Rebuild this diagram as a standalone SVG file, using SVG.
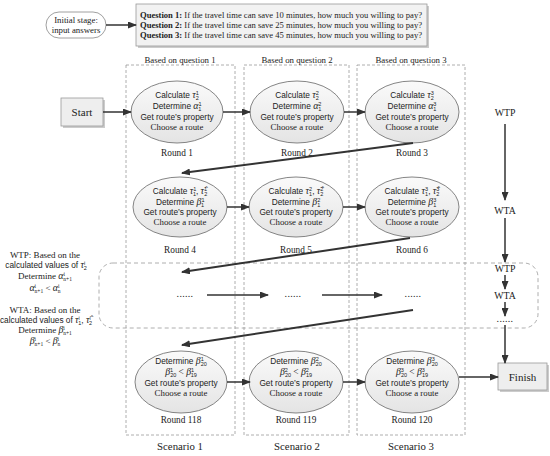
<svg xmlns="http://www.w3.org/2000/svg" width="550" height="456" viewBox="0 0 550 456">
<defs>
<marker id="ah" markerWidth="9" markerHeight="7" refX="8" refY="3.5" orient="auto" markerUnits="userSpaceOnUse">
<path d="M0,0 L9,3.5 L0,7 Z" fill="#333"/>
</marker>
<linearGradient id="eg" x1="0" y1="0" x2="0" y2="1">
<stop offset="0" stop-color="#fafafa"/>
<stop offset="1" stop-color="#e4e4e4"/>
</linearGradient>
<style>
.s{font-family:"Liberation Serif","DejaVu Serif",serif;fill:#222}
.a{font-family:"Liberation Sans","DejaVu Sans",sans-serif;fill:#222}
.m{font-family:"Liberation Serif",serif;font-style:italic;font-size:9.8px}
.sc{font-size:5.5px}
.ell{fill:url(#eg);stroke:#777;stroke-width:0.9}
.col{fill:none;stroke:#999;stroke-width:0.8;stroke-dasharray:3,2}
.ln{stroke:#333;stroke-width:1.5;fill:none}
.lt{stroke:#333;stroke-width:2;fill:none}
.box{fill:#eee;stroke:#999;stroke-width:0.8}
.sh{fill:#ccc}
.dt{font-size:10px;letter-spacing:0.3px}
</style>
</defs>

<g id="initial">
<rect x="46" y="12" width="60" height="26" rx="13" fill="#fff" stroke="#888" stroke-width="0.8"/>
<text class="s" x="76" y="23" font-size="8.8" text-anchor="middle">Initial stage:</text>
<text class="s" x="76" y="33" font-size="8.8" text-anchor="middle">input answers</text>
</g>

<g id="questions">
<rect x="138" y="6" width="291" height="42" class="sh"/>
<rect x="136" y="4" width="291" height="42" fill="#f2f2f2" stroke="#999" stroke-width="0.8"/>
<text class="s" x="140" y="18" font-size="8.8" textLength="282" lengthAdjust="spacingAndGlyphs"><tspan font-weight="bold">Question 1:</tspan> If the travel time can save 10 minutes, how much you willing to pay?</text>
<text class="s" x="140" y="28" font-size="8.8" textLength="282" lengthAdjust="spacingAndGlyphs"><tspan font-weight="bold">Question 2:</tspan> If the travel time can save 25 minutes, how much you willing to pay?</text>
<text class="s" x="140" y="38" font-size="8.8" textLength="282" lengthAdjust="spacingAndGlyphs"><tspan font-weight="bold">Question 3:</tspan> If the travel time can save 45 minutes, how much you willing to pay?</text>
</g>

<g id="columns">
<rect class="col" x="126" y="65" width="109" height="370"/>
<rect class="col" x="244" y="65" width="105" height="370"/>
<rect class="col" x="357" y="65" width="108" height="370"/>
<text class="s" x="180" y="63" font-size="8.8" text-anchor="middle">Based on question 1</text>
<text class="s" x="297" y="63" font-size="8.8" text-anchor="middle">Based on question 2</text>
<text class="s" x="411" y="63" font-size="8.8" text-anchor="middle">Based on question 3</text>
<text class="s" x="180" y="450" font-size="10.8" text-anchor="middle">Scenario 1</text>
<text class="s" x="297" y="450" font-size="10.8" text-anchor="middle">Scenario 2</text>
<text class="s" x="411" y="450" font-size="10.8" text-anchor="middle">Scenario 3</text>
</g>

<g id="loopbox">
<rect x="99" y="263" width="439" height="65" rx="14" fill="none" stroke="#999" stroke-width="0.8" stroke-dasharray="4,3"/>
</g>

<g id="start">
<rect x="63" y="100" width="42" height="28" class="sh"/>
<rect x="61" y="98" width="42" height="28" class="box"/>
<text class="s" x="82" y="116" font-size="11" text-anchor="middle">Start</text>
</g>

<g id="finish">
<rect x="500" y="365" width="49" height="27" class="sh"/>
<rect x="498" y="363" width="49" height="27" class="box"/>
<text class="s" x="522.5" y="381" font-size="11" text-anchor="middle">Finish</text>
</g>

<g id="round1">
<ellipse class="ell" cx="177" cy="112" rx="46" ry="31"/>
<text class="a" x="177" y="98" font-size="8.3" text-anchor="middle">Calculate <tspan class="m">τ</tspan><tspan class="sc" dy="-3">1</tspan><tspan class="sc" dx="-3" dy="5">2</tspan></text>
<text class="a" x="177" y="109" font-size="8.3" text-anchor="middle">Determine <tspan class="m">α</tspan><tspan class="sc" dy="-3">1</tspan><tspan class="sc" dx="-3" dy="5">1</tspan></text>
<text class="a" x="177" y="120" font-size="8.3" text-anchor="middle">Get route’s property</text>
<text class="s" x="177" y="130" font-size="8.8" text-anchor="middle">Choose a route</text>
<text class="s" x="177" y="156" font-size="9.3" text-anchor="middle">Round 1</text>
</g>

<g id="round2">
<ellipse class="ell" cx="297" cy="112" rx="47" ry="31"/>
<text class="a" x="297" y="98" font-size="8.3" text-anchor="middle">Calculate <tspan class="m">τ</tspan><tspan class="sc" dy="-3">2</tspan><tspan class="sc" dx="-3" dy="5">2</tspan></text>
<text class="a" x="297" y="109" font-size="8.3" text-anchor="middle">Determine <tspan class="m">α</tspan><tspan class="sc" dy="-3">2</tspan><tspan class="sc" dx="-3" dy="5">1</tspan></text>
<text class="a" x="297" y="120" font-size="8.3" text-anchor="middle">Get route’s property</text>
<text class="s" x="297" y="130" font-size="8.8" text-anchor="middle">Choose a route</text>
<text class="s" x="297" y="156" font-size="9.3" text-anchor="middle">Round 2</text>
</g>

<g id="round3">
<ellipse class="ell" cx="412" cy="112" rx="47" ry="31"/>
<text class="a" x="412" y="98" font-size="8.3" text-anchor="middle">Calculate <tspan class="m">τ</tspan><tspan class="sc" dy="-3">3</tspan><tspan class="sc" dx="-3" dy="5">2</tspan></text>
<text class="a" x="412" y="109" font-size="8.3" text-anchor="middle">Determine <tspan class="m">α</tspan><tspan class="sc" dy="-3">3</tspan><tspan class="sc" dx="-3" dy="5">1</tspan></text>
<text class="a" x="412" y="120" font-size="8.3" text-anchor="middle">Get route’s property</text>
<text class="s" x="412" y="130" font-size="8.8" text-anchor="middle">Choose a route</text>
<text class="s" x="412" y="156" font-size="9.3" text-anchor="middle">Round 3</text>
</g>

<g id="round4">
<ellipse class="ell" cx="180" cy="207" rx="47" ry="30"/>
<text class="a" x="180" y="194" font-size="8.3" text-anchor="middle">Calculate <tspan class="m">τ</tspan><tspan class="sc" dy="-3">1</tspan><tspan class="sc" dx="-3" dy="5">1</tspan><tspan dy="-2">, </tspan><tspan class="m">τ̂</tspan><tspan class="sc" dy="-3">1</tspan><tspan class="sc" dx="-3" dy="5">2</tspan></text>
<text class="a" x="180" y="205" font-size="8.3" text-anchor="middle">Determine <tspan class="m">β</tspan><tspan class="sc" dy="-3">1</tspan><tspan class="sc" dx="-3" dy="5">1</tspan></text>
<text class="a" x="180" y="215" font-size="8.3" text-anchor="middle">Get route’s property</text>
<text class="s" x="180" y="225" font-size="8.8" text-anchor="middle">Choose a route</text>
<text class="s" x="180" y="253" font-size="9.3" text-anchor="middle">Round 4</text>
</g>

<g id="round5">
<ellipse class="ell" cx="296" cy="207" rx="47" ry="30"/>
<text class="a" x="296" y="194" font-size="8.3" text-anchor="middle">Calculate <tspan class="m">τ</tspan><tspan class="sc" dy="-3">2</tspan><tspan class="sc" dx="-3" dy="5">1</tspan><tspan dy="-2">, </tspan><tspan class="m">τ̂</tspan><tspan class="sc" dy="-3">2</tspan><tspan class="sc" dx="-3" dy="5">2</tspan></text>
<text class="a" x="296" y="205" font-size="8.3" text-anchor="middle">Determine <tspan class="m">β</tspan><tspan class="sc" dy="-3">2</tspan><tspan class="sc" dx="-3" dy="5">1</tspan></text>
<text class="a" x="296" y="215" font-size="8.3" text-anchor="middle">Get route’s property</text>
<text class="s" x="296" y="225" font-size="8.8" text-anchor="middle">Choose a route</text>
<text class="s" x="296" y="253" font-size="9.3" text-anchor="middle">Round 5</text>
</g>

<g id="round6">
<ellipse class="ell" cx="412" cy="207" rx="47" ry="30"/>
<text class="a" x="412" y="194" font-size="8.3" text-anchor="middle">Calculate <tspan class="m">τ</tspan><tspan class="sc" dy="-3">3</tspan><tspan class="sc" dx="-3" dy="5">1</tspan><tspan dy="-2">, </tspan><tspan class="m">τ̂</tspan><tspan class="sc" dy="-3">3</tspan><tspan class="sc" dx="-3" dy="5">2</tspan></text>
<text class="a" x="412" y="205" font-size="8.3" text-anchor="middle">Determine <tspan class="m">β</tspan><tspan class="sc" dy="-3">3</tspan><tspan class="sc" dx="-3" dy="5">1</tspan></text>
<text class="a" x="412" y="215" font-size="8.3" text-anchor="middle">Get route’s property</text>
<text class="s" x="412" y="225" font-size="8.8" text-anchor="middle">Choose a route</text>
<text class="s" x="412" y="253" font-size="9.3" text-anchor="middle">Round 6</text>
</g>

<g id="dots">
<text class="s dt" x="185" y="297" text-anchor="middle">......</text>
<text class="s dt" x="293" y="297" text-anchor="middle">......</text>
<text class="s dt" x="413" y="297" text-anchor="middle">......</text>
</g>

<g id="round118">
<ellipse class="ell" cx="181" cy="382" rx="46" ry="31"/>
<text class="a" x="181" y="364" font-size="8.3" text-anchor="middle">Determine <tspan class="m">β</tspan><tspan class="sc" dy="-3">1</tspan><tspan class="sc" dx="-3" dy="5">20</tspan></text>
<text class="a" x="181" y="375" font-size="8.3" text-anchor="middle"><tspan class="m">β</tspan><tspan class="sc" dy="-3">1</tspan><tspan class="sc" dx="-3" dy="5">20</tspan><tspan dy="-2" font-size="9.3" class="s"> &lt; </tspan><tspan class="m">β</tspan><tspan class="sc" dy="-3">1</tspan><tspan class="sc" dx="-3" dy="5">19</tspan></text>
<text class="a" x="181" y="386" font-size="8.3" text-anchor="middle">Get route’s property</text>
<text class="s" x="181" y="396" font-size="8.8" text-anchor="middle">Choose a route</text>
<text class="s" x="181" y="423" font-size="9.3" text-anchor="middle">Round 118</text>
</g>

<g id="round119">
<ellipse class="ell" cx="296" cy="382" rx="47" ry="31"/>
<text class="a" x="296" y="364" font-size="8.3" text-anchor="middle">Determine <tspan class="m">β</tspan><tspan class="sc" dy="-3">2</tspan><tspan class="sc" dx="-3" dy="5">20</tspan></text>
<text class="a" x="296" y="375" font-size="8.3" text-anchor="middle"><tspan class="m">β</tspan><tspan class="sc" dy="-3">2</tspan><tspan class="sc" dx="-3" dy="5">20</tspan><tspan dy="-2" font-size="9.3" class="s"> &lt; </tspan><tspan class="m">β</tspan><tspan class="sc" dy="-3">2</tspan><tspan class="sc" dx="-3" dy="5">19</tspan></text>
<text class="a" x="296" y="386" font-size="8.3" text-anchor="middle">Get route’s property</text>
<text class="s" x="296" y="396" font-size="8.8" text-anchor="middle">Choose a route</text>
<text class="s" x="296" y="423" font-size="9.3" text-anchor="middle">Round 119</text>
</g>

<g id="round120">
<ellipse class="ell" cx="412" cy="382" rx="47" ry="31"/>
<text class="a" x="412" y="364" font-size="8.3" text-anchor="middle">Determine <tspan class="m">β</tspan><tspan class="sc" dy="-3">3</tspan><tspan class="sc" dx="-3" dy="5">20</tspan></text>
<text class="a" x="412" y="375" font-size="8.3" text-anchor="middle"><tspan class="m">β</tspan><tspan class="sc" dy="-3">3</tspan><tspan class="sc" dx="-3" dy="5">20</tspan><tspan dy="-2" font-size="9.3" class="s"> &lt; </tspan><tspan class="m">β</tspan><tspan class="sc" dy="-3">3</tspan><tspan class="sc" dx="-3" dy="5">19</tspan></text>
<text class="a" x="412" y="386" font-size="8.3" text-anchor="middle">Get route’s property</text>
<text class="s" x="412" y="396" font-size="8.8" text-anchor="middle">Choose a route</text>
<text class="s" x="412" y="423" font-size="9.3" text-anchor="middle">Round 120</text>
</g>

<g id="side-labels">
<text class="s" x="505" y="116" font-size="9.8" text-anchor="middle">WTP</text>
<text class="s" x="505" y="214" font-size="9.8" text-anchor="middle">WTA</text>
<text class="s" x="505" y="272" font-size="9.8" text-anchor="middle">WTP</text>
<text class="s" x="505" y="299" font-size="9.8" text-anchor="middle">WTA</text>
<text class="s dt" x="505" y="322" text-anchor="middle">......</text>
</g>

<g id="legend">
<text class="s" x="45" y="258" font-size="9" text-anchor="middle">WTP: Based on the</text>
<text class="a" x="46" y="268" font-size="8.3" text-anchor="middle">calculated values of <tspan class="m">τ</tspan><tspan class="sc" dy="-3">i</tspan><tspan class="sc" dx="-1.6" dy="5">2</tspan></text>
<text class="s" x="45" y="279" font-size="9" text-anchor="middle">Determine <tspan class="m">α</tspan><tspan class="sc" dy="-3">i</tspan><tspan class="sc" dx="-1.6" dy="5">n+1</tspan></text>
<text class="s" x="45" y="291" font-size="9" text-anchor="middle"><tspan class="m">α</tspan><tspan class="sc" dy="-3">i</tspan><tspan class="sc" dx="-1.6" dy="5">n+1</tspan><tspan dy="-2"> &lt; </tspan><tspan class="m">α</tspan><tspan class="sc" dy="-3">i</tspan><tspan class="sc" dx="-1.6" dy="5">n</tspan></text>
<text class="s" x="45" y="313" font-size="9" text-anchor="middle">WTA: Based on the</text>
<text class="a" x="46" y="323" font-size="8.3" text-anchor="middle">calculated values of <tspan class="m">τ</tspan><tspan class="sc" dy="-3">i</tspan><tspan class="sc" dx="-1.6" dy="5">1</tspan><tspan dy="-2">, </tspan><tspan class="m">τ̂</tspan><tspan class="sc" dy="-3">i</tspan><tspan class="sc" dx="-1.6" dy="5">2</tspan></text>
<text class="s" x="45" y="333" font-size="9" text-anchor="middle">Determine <tspan class="m">β</tspan><tspan class="sc" dy="-3">i</tspan><tspan class="sc" dx="-1.6" dy="5">n+1</tspan></text>
<text class="s" x="45" y="344" font-size="9" text-anchor="middle"><tspan class="m">β</tspan><tspan class="sc" dy="-3">i</tspan><tspan class="sc" dx="-1.6" dy="5">n+1</tspan><tspan dy="-2"> &lt; </tspan><tspan class="m">β</tspan><tspan class="sc" dy="-3">i</tspan><tspan class="sc" dx="-1.6" dy="5">n</tspan></text>
</g>

<g id="connectors">
<line class="ln" x1="106" y1="25" x2="136" y2="25" marker-end="url(#ah)"/>
<line class="ln" x1="103" y1="112" x2="131" y2="112" marker-end="url(#ah)"/>
<line class="ln" x1="223" y1="112" x2="250" y2="112" marker-end="url(#ah)"/>
<line class="ln" x1="344" y1="112" x2="365" y2="112" marker-end="url(#ah)"/>
<line class="lt" x1="413" y1="143" x2="182" y2="173" marker-end="url(#ah)"/>
<line class="ln" x1="227" y1="207" x2="249" y2="207" marker-end="url(#ah)"/>
<line class="ln" x1="343" y1="207" x2="365" y2="207" marker-end="url(#ah)"/>
<line class="lt" x1="410" y1="238" x2="182" y2="272" marker-end="url(#ah)"/>
<line class="ln" x1="207" y1="295" x2="268" y2="295" marker-end="url(#ah)"/>
<line class="ln" x1="322" y1="295" x2="382" y2="295" marker-end="url(#ah)"/>
<line class="lt" x1="413" y1="310" x2="182" y2="345" marker-end="url(#ah)"/>
<line class="ln" x1="227" y1="382" x2="250" y2="382" marker-end="url(#ah)"/>
<line class="ln" x1="343" y1="382" x2="365" y2="382" marker-end="url(#ah)"/>
<line class="ln" x1="459" y1="377" x2="498" y2="377" marker-end="url(#ah)"/>
<line class="ln" x1="505" y1="124" x2="505" y2="200" marker-end="url(#ah)"/>
<line class="ln" x1="505" y1="218" x2="505" y2="262" marker-end="url(#ah)"/>
<line class="ln" x1="505" y1="275" x2="505" y2="289" marker-end="url(#ah)"/>
<line class="ln" x1="505" y1="302" x2="505" y2="316" marker-end="url(#ah)"/>
<line class="ln" x1="505" y1="325" x2="505" y2="363" marker-end="url(#ah)"/>
</g>
</svg>
